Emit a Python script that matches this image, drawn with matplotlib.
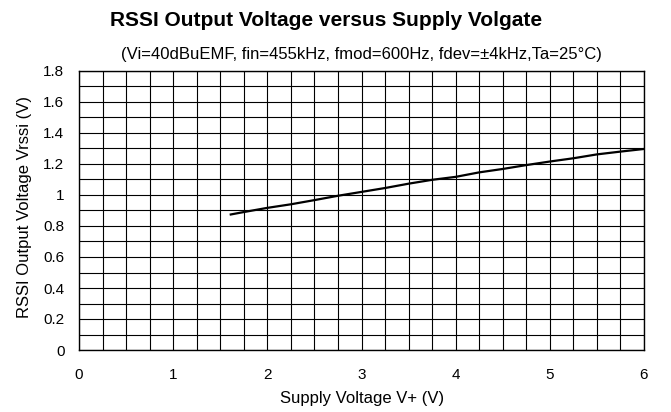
import numpy as np
import matplotlib.pyplot as plt
from matplotlib.ticker import MultipleLocator

plt.rcParams['font.family'] = ['Liberation Sans', 'DejaVu Sans']

# supply voltage (V) and RSSI output voltage (V)
supply_v = [1.6, 1.75, 2.0, 2.25, 2.5, 2.75, 3.0, 3.25, 3.5, 3.75,
            4.0, 4.25, 4.5, 4.75, 5.0, 5.25, 5.5, 5.75, 6.0]
rssi_v = [0.873, 0.89, 0.917, 0.94, 0.967, 0.995, 1.02, 1.045, 1.073, 1.098,
          1.117, 1.146, 1.168, 1.193, 1.216, 1.237, 1.262, 1.28, 1.297]

x_ticks = [0, 1, 2, 3, 4, 5, 6]
y_ticks = [0, 0.2, 0.4, 0.6, 0.8, 1.0, 1.2, 1.4, 1.6, 1.8]
y_labels = ['0', '0.2', '0.4', '0.6', '0.8', '1', '1.2', '1.4', '1.6', '1.8']

fig = plt.figure(figsize=(6.71, 4.12), dpi=100)
ax = fig.add_axes([79 / 671, 1 - 350 / 412, 565 / 671, 279 / 412])

ax.plot(supply_v, rssi_v, color='black', linewidth=1.6, solid_capstyle='butt')

ax.set_xlim(0, 6)
ax.set_ylim(0, 1.8)
ax.set_xticks(x_ticks)
ax.set_xticklabels([str(t) for t in x_ticks])
ax.set_yticks(y_ticks)
ax.set_yticklabels(y_labels)
ax.xaxis.set_minor_locator(MultipleLocator(0.25))
ax.yaxis.set_minor_locator(MultipleLocator(0.1))

# dense black grid, like a datasheet graph
ax.grid(True, which='both', color='black', linewidth=0.8)
ax.set_axisbelow(True)
for s in ax.spines.values():
    s.set_color('black')
    s.set_linewidth(1.0)

ax.tick_params(axis='both', which='both', length=0, labelsize=11)
ax.tick_params(axis='x', pad=13)
ax.tick_params(axis='y', pad=10.5)

fig.text(362 / 671, 1 - 398 / 412, 'Supply Voltage V+ (V)',
         ha='center', va='center', fontsize=12)
fig.text(25 / 671, 1 - 207 / 412, 'RSSI Output Voltage Vrssi (V)',
         ha='center', va='center', rotation=90, fontsize=12)

fig.text(326 / 671, 1 - 21 / 412, 'RSSI Output Voltage versus Supply Volgate',
         ha='center', va='center', fontsize=15, fontweight='bold')
fig.text(361 / 671, 1 - 55 / 412,
         '(Vi=40dBuEMF, fin=455kHz, fmod=600Hz, fdev=\u00b14kHz,Ta=25\u00b0C)',
         ha='center', va='center', fontsize=12)

fig.savefig('out.png', dpi=100)
